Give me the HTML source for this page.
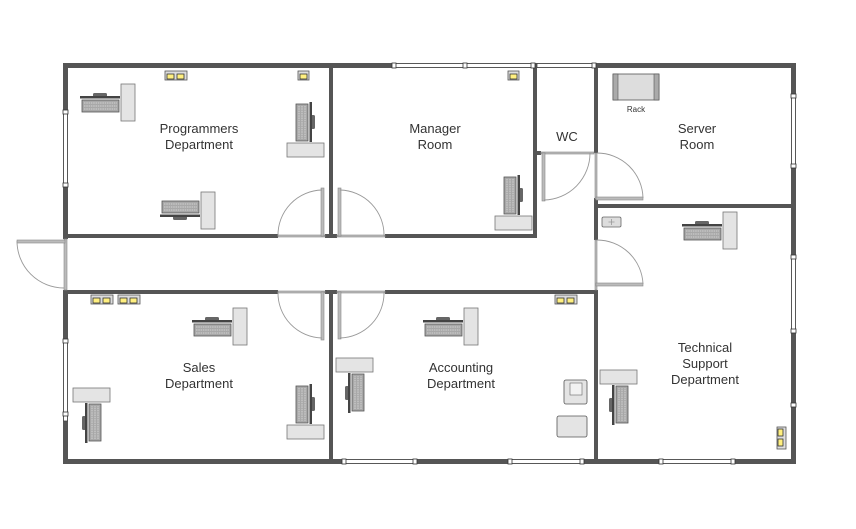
<!DOCTYPE html>
<html><head><meta charset="utf-8"><style>
html,body{margin:0;padding:0;background:#fff;}
svg{display:block;}
text{font-family:"Liberation Sans","DejaVu Sans",sans-serif;fill:#333;}
</style></head><body>
<svg width="856" height="529" viewBox="0 0 856 529" xmlns="http://www.w3.org/2000/svg">
<defs>
<g id="ws">
  <rect x="41" y="0" width="14" height="37" fill="#e4e4e4" stroke="#777" stroke-width="0.8"/>
  <rect x="13" y="9" width="14" height="4" rx="1.5" fill="#666"/>
  <rect x="0" y="12" width="40" height="2.5" fill="#444"/>
  <rect x="2" y="16" width="37" height="12" fill="#a8a8a8" stroke="#555" stroke-width="0.8"/>
  <path d="M4 19h33M4 22h33M4 25h33" stroke="#e0e0e0" stroke-width="0.8" stroke-dasharray="1.5 0.8"/>
</g>
<g id="sock2">
  <rect x="0" y="0" width="22" height="9" fill="#ddd" stroke="#555" stroke-width="0.8"/>
  <rect x="2" y="3" width="7" height="5" fill="#ffef80" stroke="#333" stroke-width="0.8"/>
  <rect x="12" y="3" width="7" height="5" fill="#ffef80" stroke="#333" stroke-width="0.8"/>
</g>
<g id="sock1">
  <rect x="0" y="0" width="11" height="9" fill="#ddd" stroke="#555" stroke-width="0.8"/>
  <rect x="2" y="3" width="7" height="5" fill="#ffef80" stroke="#333" stroke-width="0.8"/>
</g>
</defs>

<!-- walls -->
<g fill="#555">
  <rect x="63" y="63" width="733" height="5"/>
  <rect x="63" y="459" width="733" height="5"/>
  <rect x="63" y="63" width="5" height="176"/>
  <rect x="63" y="290" width="5" height="174"/>
  <rect x="791" y="63" width="5" height="401"/>
  <rect x="329" y="63" width="4" height="175"/>
  <rect x="329" y="290" width="4" height="172"/>
  <rect x="533" y="63" width="4" height="175"/>
  <rect x="594" y="63" width="4" height="90"/>
  <rect x="594" y="198" width="4" height="42"/>
  <rect x="594" y="290" width="4" height="172"/>
  <rect x="596" y="204" width="197" height="4"/>
  <rect x="63" y="234" width="215" height="4"/>
  <rect x="325" y="234" width="12" height="4"/>
  <rect x="385" y="234" width="150" height="4"/>
  <rect x="63" y="290" width="215" height="4"/>
  <rect x="325" y="290" width="12" height="4"/>
  <rect x="385" y="290" width="213" height="4"/>
  <rect x="533" y="151" width="8" height="4"/>
</g>

<!-- windows -->
<g fill="#fff" stroke="#444" stroke-width="0.8">
  <rect x="394" y="63.5" width="141" height="4"/>
  <rect x="537" y="63.5" width="57" height="4"/>
  <rect x="63.5" y="112" width="4" height="74"/>
  <rect x="63.5" y="340" width="4" height="81"/>
  <rect x="791.5" y="95" width="4" height="71"/>
  <rect x="791.5" y="256" width="4" height="75"/>
  <rect x="344" y="459.5" width="72" height="4"/>
  <rect x="510" y="459.5" width="73" height="4"/>
  <rect x="661" y="459.5" width="74" height="4"/>
</g>
<g fill="#fff" stroke="#333" stroke-width="0.8">
  <rect x="392" y="63" width="4" height="5"/><rect x="463" y="63" width="4" height="5"/><rect x="531" y="63" width="4" height="5"/><rect x="592" y="63" width="4" height="5"/>
  <rect x="63" y="110" width="5" height="4"/><rect x="63" y="183" width="5" height="4"/>
  <rect x="63" y="339" width="5" height="4"/><rect x="63" y="412" width="5" height="4"/>
  <rect x="791" y="94" width="5" height="4"/><rect x="791" y="164" width="5" height="4"/>
  <rect x="791" y="255" width="5" height="4"/><rect x="791" y="329" width="5" height="4"/><rect x="791" y="403" width="5" height="4"/>
  <rect x="342" y="459" width="4" height="5"/><rect x="413" y="459" width="4" height="5"/>
  <rect x="508" y="459" width="4" height="5"/><rect x="580" y="459" width="4" height="5"/>
  <rect x="659" y="459" width="4" height="5"/><rect x="731" y="459" width="4" height="5"/>
</g>

<!-- doors -->
<g fill="#bbb" stroke="#888" stroke-width="0.6">
  <rect x="278" y="235" width="47" height="2"/><rect x="337" y="235" width="48" height="2"/>
  <rect x="278" y="291" width="47" height="2"/><rect x="337" y="291" width="48" height="2"/>
  <rect x="321" y="188" width="3" height="48"/>
  <rect x="338" y="188" width="3" height="48"/>
  <rect x="321" y="292" width="3" height="48"/>
  <rect x="338" y="292" width="3" height="47"/>
  <rect x="541" y="152" width="53" height="2"/>
  <rect x="542" y="153" width="3" height="48"/>
  <rect x="595" y="153" width="2" height="46"/>
  <rect x="596" y="197" width="47" height="3"/>
  <rect x="595" y="240" width="2" height="50"/>
  <rect x="596" y="283" width="47" height="3"/>
  <rect x="64" y="239" width="3" height="51"/>
  <rect x="17" y="240" width="48" height="3"/>
</g>
<g fill="none" stroke="#999" stroke-width="0.9">
  <path d="M278 236 A45 45 0 0 1 322 190"/>
  <path d="M340 190 A45 45 0 0 1 384 236"/>
  <path d="M278 292 A45 45 0 0 0 322 338"/>
  <path d="M340 338 A45 45 0 0 0 384 292"/>
  <path d="M590 153 A47 47 0 0 1 544 200"/>
  <path d="M597 153 A46 46 0 0 1 643 198"/>
  <path d="M597 240 A46 46 0 0 1 643 284"/>
  <path d="M17 241 A47 47 0 0 0 64 288"/>
</g>

<!-- workstations -->
<use href="#ws" transform="translate(80,84)"/>
<use href="#ws" transform="translate(324,102) rotate(90)"/>
<use href="#ws" transform="translate(160,229) scale(1,-1)"/>
<use href="#ws" transform="translate(532,175) rotate(90)"/>
<use href="#ws" transform="translate(192,308)"/>
<use href="#ws" transform="translate(73,443) rotate(-90)"/>
<use href="#ws" transform="translate(324,384) rotate(90)"/>
<use href="#ws" transform="translate(423,308)"/>
<use href="#ws" transform="translate(336,413) rotate(-90)"/>
<use href="#ws" transform="translate(682,212)"/>
<use href="#ws" transform="translate(600,425) rotate(-90)"/>

<!-- sockets -->
<use href="#sock2" transform="translate(165,71)"/>
<use href="#sock1" transform="translate(298,71)"/>
<use href="#sock1" transform="translate(508,71)"/>
<use href="#sock2" transform="translate(91,295)"/>
<use href="#sock2" transform="translate(118,295)"/>
<use href="#sock2" transform="translate(555,295)"/>
<use href="#sock2" transform="translate(786,427) rotate(90)"/>

<!-- rack -->
<rect x="613" y="74" width="46" height="26" fill="#ddd" stroke="#555" stroke-width="0.8"/>
<rect x="613" y="74" width="5" height="26" fill="#aaa" stroke="#555" stroke-width="0.6"/>
<rect x="654" y="74" width="5" height="26" fill="#aaa" stroke="#555" stroke-width="0.6"/>
<text x="636" y="112" font-size="8" text-anchor="middle">Rack</text>

<!-- first aid -->
<rect x="602" y="217" width="19" height="10" rx="1.5" fill="#ddd" stroke="#666" stroke-width="0.8"/>
<path d="M611.5 219v6M608.5 222h6" stroke="#999" stroke-width="0.8"/>

<!-- fax / copier -->
<rect x="564" y="380" width="23" height="24" rx="2" fill="#e4e4e4" stroke="#555" stroke-width="0.8"/>
<rect x="570" y="383" width="12" height="12" fill="#f2f2f2" stroke="#666" stroke-width="0.6"/>
<rect x="557" y="416" width="30" height="21" rx="2" fill="#e4e4e4" stroke="#555" stroke-width="0.8"/>

<!-- labels -->
<g font-size="13" text-anchor="middle">
  <text x="199" y="133">Programmers</text><text x="199" y="149">Department</text>
  <text x="435" y="133">Manager</text><text x="435" y="149">Room</text>
  <text x="567" y="141">WC</text>
  <text x="697" y="133">Server</text><text x="697" y="149">Room</text>
  <text x="199" y="372">Sales</text><text x="199" y="388">Department</text>
  <text x="461" y="372">Accounting</text><text x="461" y="388">Department</text>
  <text x="705" y="352">Technical</text><text x="705" y="368">Support</text><text x="705" y="384">Department</text>
</g>
</svg>
</body></html>
